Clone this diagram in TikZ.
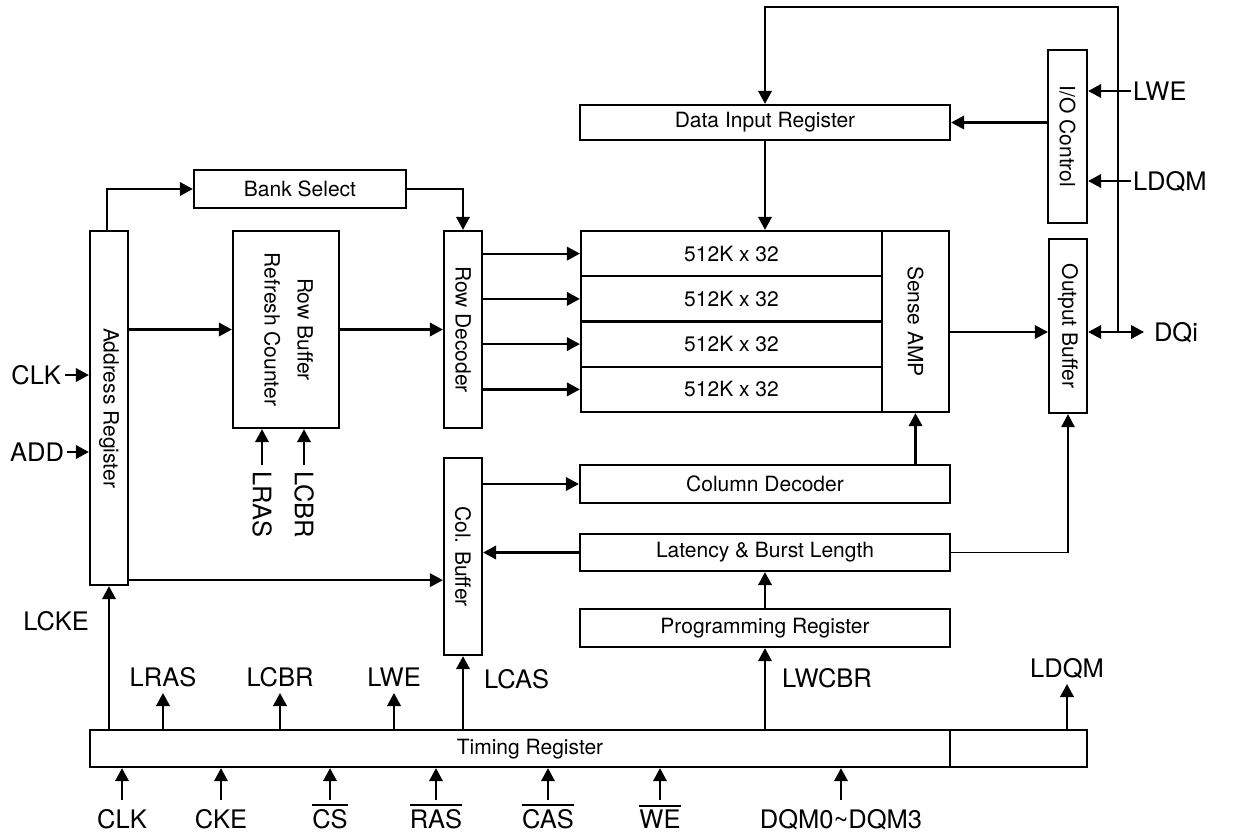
\documentclass[tikz,border=0pt]{standalone}
\usepackage{fontspec}
\usepackage{graphicx}
\setmainfont{TeX Gyre Heros}
\usetikzlibrary{arrows.meta}
\newcommand\ovl[1]{\vbox{\hrule height 2pt\kern 3pt\hbox{#1}}}
\begin{document}
\begin{tikzpicture}[x=1pt,y=-1pt,
  box/.style={draw, line width=2.3pt, inner sep=0pt, font=\fontsize{21}{25}\selectfont},
  arr/.style={line width=2.2pt, -{Triangle[length=13pt,width=13.5pt]}},
  thinarr/.style={line width=1.4pt, -{Triangle[length=13pt,width=13.5pt]}},
  dbl/.style={line width=2.2pt, {Triangle[length=13pt,width=13.5pt]}-{Triangle[length=13pt,width=13.5pt]}},
  sig/.style={inner sep=0pt, font=\fontsize{25.5}{30}\selectfont, text height=18.3pt, text depth=0pt},
  small/.style={inner sep=0pt, font=\fontsize{21}{25}\selectfont},
]
\useasboundingbox (0,0) rectangle (1236,839);
\fill[white] (0,0) rectangle (1236,839);

% ---- boxes ----
\node[box, minimum width=38pt, minimum height=354pt] (ar) at (109,408) {\rotatebox{-90}{Address Register}};
\node[box, minimum width=212pt, minimum height=38pt] (bs) at (300,189) {Bank Select};
\node[box, minimum width=106pt, minimum height=197pt] (rbrc) at (286,329.5)
  {\rotatebox{-90}{\begin{tabular}{@{}c@{}}Row Buffer\\[8pt]Refresh Counter\end{tabular}}};
\node[box, minimum width=38pt, minimum height=197pt] (rd) at (463,329.5) {\rotatebox{-90}{Row Decoder}};
\node[box, minimum width=38pt, minimum height=197pt] (cb) at (463,556.5) {\rotatebox{-90}{Col. Buffer}};
\node[box, minimum width=301pt, minimum height=45.25pt] (m1) at (731.5,253.6) {512K x 32};
\node[box, minimum width=301pt, minimum height=45.25pt] (m2) at (731.5,298.9) {512K x 32};
\node[box, minimum width=301pt, minimum height=45.25pt] (m3) at (731.5,344.1) {512K x 32};
\node[box, minimum width=301pt, minimum height=45.25pt] (m4) at (731.5,389.4) {512K x 32};
\node[box, minimum width=67pt, minimum height=181pt] (sa) at (915.5,321.5) {\rotatebox{-90}{Sense AMP}};
\node[box, minimum width=370pt, minimum height=35pt] (dir) at (765,122.5) {Data Input Register};
\node[box, minimum width=39pt, minimum height=173pt] (ioc) at (1067.5,136.5) {\rotatebox{-90}{I/O Control}};
\node[box, minimum width=38pt, minimum height=174pt] (ob) at (1068,326) {\rotatebox{-90}{Output Buffer}};
\node[box, minimum width=370pt, minimum height=38pt] (cd) at (765,484) {Column Decoder};
\node[box, minimum width=370pt, minimum height=37pt] (lb) at (765,552.5) {Latency \& Burst Length};
\node[box, minimum width=370pt, minimum height=38pt] (pr) at (765,628) {Programming Register};
\node[box, minimum width=860pt, minimum height=37pt] (tr) at (520,748.5) {};
\node[box, minimum width=137pt, minimum height=37pt] (tr2) at (1018.5,748.5) {};
\node[small] (trlabel) at (530,749) {Timing Register};

% ---- internal connections ----
\draw[arr] ([xshift=-2pt]ar.north) |- (bs.west);
\draw[arr] (bs.east) -| (rd.north);
\draw[arr] (ar.east |- rbrc.west) -- (rbrc.west);
\draw[arr] (rbrc.east) -- (rd.west);
\foreach \m in {m1,m2,m3,m4} \draw[arr] (rd.east |- \m.west) -- (\m.west);
\draw[arr] ([yshift=6pt]ar.south east) -- ([yshift=6pt]ar.south east -| cb.west);
\draw[arr] (cb.east |- cd.west) -- (cd.west);
\draw[arr] (lb.west) -- (lb.west -| cb.east);
\draw[arr] (cd.north -| sa.south) -- (sa.south);
\draw[arr] (pr.north) -- (lb.south);
\draw[thinarr] (lb.east) -| (ob.south);
\draw[arr] (dir.south) -- (dir.south |- m1.north);
\draw[arr] (ioc.west |- dir.east) -- (dir.east);

\coordinate (dq) at (1118,332);
\coordinate (bustop) at (1118,7);
\draw[arr] (dq) -- (bustop) -| (dir.north);
\draw[arr] (sa.east |- dq) -- (ob.west |- dq);

% ---- left / right signals ----
\node[sig, anchor=east, outer xsep=4pt] (clk) at (65,375) {CLK};
\draw[arr] (clk.east) -- (clk.east -| ar.west);
\node[sig, anchor=east, outer xsep=3pt] (add) at (67,452) {ADD};
\draw[arr] (add.east) -- (add.east -| ar.west);
\node[sig, anchor=east] (lcke) at (89,621) {LCKE};

\node[sig, anchor=west, outer xsep=2pt] (lwer) at (1131,91) {LWE};
\draw[arr] (lwer.west) -- (lwer.west -| ioc.east);
\node[sig, anchor=west, outer xsep=2pt] (ldqmr) at (1131,181) {LDQM};
\draw[arr] (ldqmr.west) -- (ldqmr.west -| ioc.east);
\node[sig, anchor=west, outer xsep=10pt] (dqi) at (1144,332) {DQi};
\draw[dbl] (ob.east |- dq) -- (dqi.west);

% ---- refresh counter inputs ----
\node[sig, rotate=-90, anchor=west, outer xsep=6pt] (lrasr) at (262,465) {LRAS};
\draw[arr] (lrasr.west) -- (lrasr.west |- rbrc.south);
\node[sig, rotate=-90, anchor=west, outer xsep=6pt] (lcbrr) at (304,465) {LCBR};
\draw[arr] (lcbrr.west) -- (lcbrr.west |- rbrc.south);

% ---- timing register outputs ----
\draw[arr] (tr.north -| ar.south) -- (ar.south);
\node[sig, anchor=south, outer ysep=7pt] (lrast) at (163,693) {LRAS};
\draw[arr] (lrast.south |- tr.north) -- (lrast.south);
\node[sig, anchor=south, outer ysep=7pt] (lcbrt) at (280,693) {LCBR};
\draw[arr] (lcbrt.south |- tr.north) -- (lcbrt.south);
\node[sig, anchor=south, outer ysep=7pt] (lwet) at (394,693) {LWE};
\draw[arr] (lwet.south |- tr.north) -- (lwet.south);
\draw[arr] (tr.north -| cb.south) -- (cb.south);
\node[sig, anchor=west] (lcas) at (484,679) {LCAS};
\draw[arr] (tr.north -| pr.south) -- (pr.south);
\node[sig, anchor=west] (lwcbr) at (782,678) {LWCBR};
\node[sig, anchor=south, outer ysep=7pt] (ldqmt) at (1067,684) {LDQM};
\draw[arr] (ldqmt.south |- tr2.north) -- (ldqmt.south);

% ---- timing register inputs ----
\node[sig, anchor=north, outer ysep=10pt] (bclk) at (122,800) {CLK};
\node[sig, anchor=north, outer ysep=10pt] (bcke) at (221,800) {CKE};
\node[sig, anchor=north, outer ysep=10pt] (bcs) at (330,800) {\ovl{CS}};
\node[sig, anchor=north, outer ysep=10pt] (bras) at (436,800) {\ovl{RAS}};
\node[sig, anchor=north, outer ysep=10pt] (bcas) at (548,800) {\ovl{CAS}};
\node[sig, anchor=north, outer ysep=10pt] (bwe) at (660,800) {\ovl{WE}};
\node[sig, anchor=north, outer ysep=10pt] (bdqm) at (841,800) {DQM0\textasciitilde DQM3};
\foreach \s in {bclk,bcke,bcs,bras,bcas,bwe,bdqm}
  \draw[arr] (\s.north) -- (\s.north |- tr.south);
\end{tikzpicture}
\end{document}
